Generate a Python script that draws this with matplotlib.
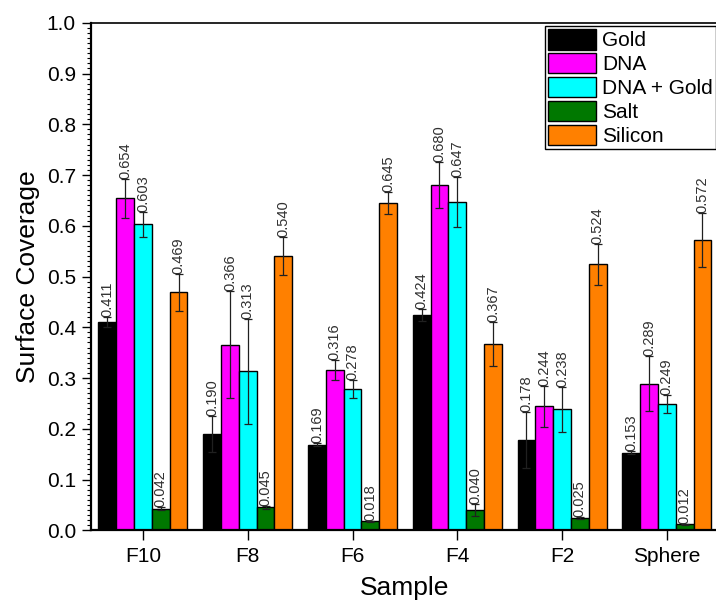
import numpy as np
import matplotlib
matplotlib.use('Agg')
import matplotlib.pyplot as plt
from matplotlib.ticker import MultipleLocator

plt.rcParams['font.family'] = ['Liberation Sans', 'DejaVu Sans']

#surface coverage per sample, one list per material
samples = ['F10', 'F8', 'F6', 'F4', 'F2', 'Sphere']
series = ['Gold', 'DNA', 'DNA + Gold', 'Salt', 'Silicon']

gold = [0.411, 0.190, 0.169, 0.424, 0.178, 0.153]
dna = [0.654, 0.366, 0.316, 0.680, 0.244, 0.289]
dna_gold = [0.603, 0.313, 0.278, 0.647, 0.238, 0.249]
salt = [0.042, 0.045, 0.018, 0.040, 0.025, 0.012]
silicon = [0.469, 0.540, 0.645, 0.367, 0.524, 0.572]

#standard deviations
gold_err = [0.010, 0.036, 0.003, 0.012, 0.056, 0.003]
dna_err = [0.038, 0.106, 0.020, 0.045, 0.041, 0.054]
dna_gold_err = [0.025, 0.103, 0.018, 0.050, 0.045, 0.018]
salt_err = [0.003, 0.003, 0.001, 0.011, 0.002, 0.001]
silicon_err = [0.036, 0.037, 0.021, 0.044, 0.040, 0.054]

values = [gold, dna, dna_gold, salt, silicon]
errors = [gold_err, dna_err, dna_gold_err, salt_err, silicon_err]
colors = ['#000000', '#ff00ff', '#00ffff', '#007800', '#ff8000']

fig = plt.figure(figsize=(7.16, 6.10), dpi=100)
ax = fig.add_axes([0.1265, 0.1307, 0.878, 0.832])

x = np.arange(len(samples))
width = 0.17

for i, (name, v, e, c) in enumerate(zip(series, values, errors, colors)):
    pos = x + (i - 2) * width
    ax.bar(pos, v, width, color=c, edgecolor='black', linewidth=1.0, label=name, zorder=2)
    ax.errorbar(pos, v, yerr=e, fmt='none', ecolor='#202020', elinewidth=0.9,
                capsize=2.8, capthick=0.9, zorder=3)
    for xp, val, err in zip(pos, v, e):
        ax.text(xp, val + err, '%.3f' % val, rotation=90, ha='center', va='bottom',
                fontsize=10.5, color='#303030', zorder=4)

ax.set_xlim(-0.5, 5.5)
ax.set_ylim(0, 1.0)
ax.set_xticks(x)
ax.set_xticklabels(samples)
ax.yaxis.set_major_locator(MultipleLocator(0.1))
ax.yaxis.set_minor_locator(MultipleLocator(0.01))
ax.yaxis.set_major_formatter(matplotlib.ticker.FormatStrFormatter('%.1f'))

ax.tick_params(axis='x', which='major', direction='out', length=7, width=1, labelsize=15, pad=5)
ax.tick_params(axis='y', which='major', direction='out', length=6.5, width=1, labelsize=15, pad=4)
ax.tick_params(axis='y', which='minor', direction='out', length=3, width=0.8)

for s in ['left', 'bottom']:
    ax.spines[s].set_linewidth(1.6)
ax.spines['top'].set_linewidth(1.2)
ax.spines['right'].set_visible(False)

ax.set_xlabel('Sample', fontsize=19, labelpad=7)
ax.set_ylabel('Surface Coverage', fontsize=19, labelpad=5)

leg = ax.legend(loc='upper right', bbox_to_anchor=(1.0, 1 - 25.8 / 610),
                bbox_transform=fig.transFigure, borderaxespad=0, fontsize=15,
                handlelength=2.3, handleheight=1.15, labelspacing=0.12,
                handletextpad=0.3, borderpad=0.15, fancybox=False, framealpha=1)
leg.get_frame().set_edgecolor('black')
leg.get_frame().set_linewidth(1.0)

fig.savefig('out.png', dpi=100)
